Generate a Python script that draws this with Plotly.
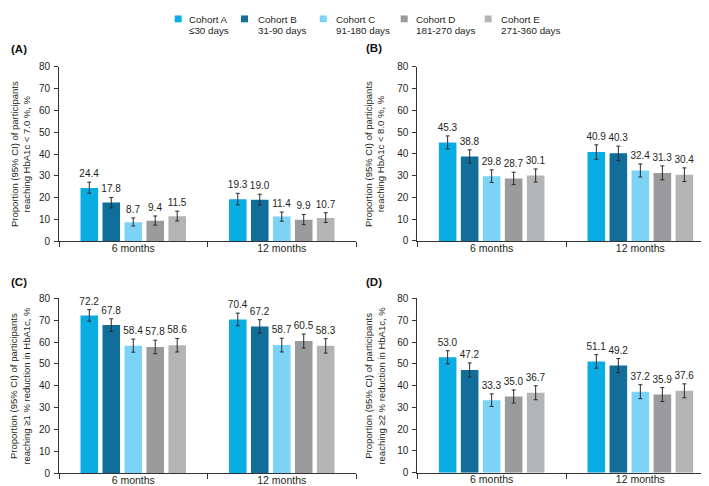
import plotly.graph_objects as go

W, H = 709, 486

# ---------------- data ----------------
cohorts = ["Cohort A", "Cohort B", "Cohort C", "Cohort D", "Cohort E"]
cohort_ranges = ["≤30 days", "31-90 days", "91-180 days", "181-270 days", "271-360 days"]
timepoints = ["6 months", "12 months"]
colors = ["#0AADE3", "#116E9A", "#7DD3F5", "#999B9C", "#B3B4B5"]

# values per cohort: [6 months, 12 months]
a_values = [[24.4, 19.3], [17.8, 19.0], [8.7, 11.4], [9.4, 9.9], [11.5, 10.7]]
a_ci_low = [[22.0, 16.7], [15.3, 16.7], [7.0, 9.2], [7.4, 7.6], [9.3, 8.6]]
a_ci_high = [[27.1, 22.0], [20.1, 21.6], [10.7, 13.4], [11.6, 12.3], [13.8, 13.1]]

b_values = [[45.3, 40.9], [38.8, 40.3], [29.8, 32.4], [28.7, 31.3], [30.1, 30.4]]
b_ci_low = [[42.3, 37.6], [35.8, 36.9], [26.9, 29.4], [25.9, 28.1], [27.1, 27.3]]
b_ci_high = [[48.3, 44.2], [41.9, 43.6], [32.7, 35.4], [31.6, 34.5], [33.1, 33.6]]

c_values = [[72.2, 70.4], [67.8, 67.2], [58.4, 58.7], [57.8, 60.5], [58.6, 58.3]]
c_ci_low = [[69.6, 67.5], [64.9, 64.1], [55.4, 55.5], [54.7, 57.3], [55.5, 55.0]]
c_ci_high = [[74.9, 73.3], [70.7, 70.3], [61.4, 61.8], [60.9, 63.7], [61.7, 61.6]]

d_values = [[53.0, 51.1], [47.2, 49.2], [33.3, 37.2], [35.0, 35.9], [36.7, 37.6]]
d_ci_low = [[50.0, 48.0], [44.0, 46.0], [30.4, 34.0], [32.0, 32.7], [33.5, 34.4]]
d_ci_high = [[56.0, 54.2], [50.4, 52.4], [36.2, 40.4], [38.0, 39.1], [39.9, 40.8]]

panel_letters = ["(A)", "(B)", "(C)", "(D)"]
y_titles = [
    "Proportion (95% CI) of participants<br>reaching HbA1c < 7.0 %, %",
    "Proportion (95% CI) of participants<br>reaching HbA1c < 8.0 %, %",
    "Proportion (95% CI) of participants<br>reaching ≥1 % reduction in HbA1c, %",
    "Proportion (95% CI) of participants<br>reaching ≥2 % reduction in HbA1c, %",
]
y_ticks = [0, 10, 20, 30, 40, 50, 60, 70, 80]

panels = [
    (a_values, a_ci_low, a_ci_high),
    (b_values, b_ci_low, b_ci_high),
    (c_values, c_ci_low, c_ci_high),
    (d_values, d_ci_low, d_ci_high),
]

# ---------------- layout geometry (pixels) ----------------
FONT = "Liberation Sans, Arial, sans-serif"
TXT = "#231F20"
AX = "#333333"

def px_x(p):
    return p / W

def px_y(p):
    return 1 - p / H

# (left, right, top, bottom) of each plot area in pixels
boxes = [
    (51, 348, 54.3, 233),
    (409.3, 706.7, 54.3, 232.7),
    (51, 348, 291.7, 470.7),
    (409.3, 706.7, 291.7, 470.3),
]
label_pos = [(1, 36), (356, 35), (1, 275), (356, 275)]
title_x = [12, 367, 12, 367]

fig = go.Figure()

for pi, (vals, lo, hi) in enumerate(panels):
    sfx = "" if pi == 0 else str(pi + 1)
    xa, ya = "x" + sfx, "y" + sfx
    for ci in range(len(cohorts)):
        v = vals[ci]
        plus = [h - val for h, val in zip(hi[ci], v)]
        minus = [val - l for l, val in zip(lo[ci], v)]
        fig.add_trace(go.Bar(
            x=timepoints, y=v, name=cohorts[ci],
            marker=dict(color=colors[ci], line=dict(width=0)),
            offsetgroup=str(ci),
            error_y=dict(type="data", array=plus, arrayminus=minus,
                         color="#2B2B2B", thickness=1, width=2),
            xaxis=xa, yaxis=ya, showlegend=False,
            hovertemplate="%{x}: %{y}<extra>" + cohorts[ci] + "</extra>",
        ))
        # value labels placed just above the upper CI
        fig.add_trace(go.Bar(
            x=timepoints, y=hi[ci], offsetgroup=str(ci),
            marker=dict(color="rgba(0,0,0,0)", line=dict(width=0)),
            text=[f"{val:.1f}" for val in v], textposition="outside",
            constraintext="none", cliponaxis=False,
            textfont=dict(size=10, color=TXT, family=FONT),
            xaxis=xa, yaxis=ya, showlegend=False, hoverinfo="skip",
        ))

layout = dict(
    width=W, height=H, autosize=False,
    margin=dict(l=0, r=0, t=0, b=0),
    paper_bgcolor="white", plot_bgcolor="white",
    barmode="group", bargap=0.26, bargroupgap=0.2,
    font=dict(family=FONT, color=TXT, size=10),
    showlegend=False,
)

annotations = []
shapes = []
for pi in range(4):
    l, r, t, b = boxes[pi]
    sfx = "" if pi == 0 else str(pi + 1)
    layout["xaxis" + sfx] = dict(
        domain=[px_x(l), px_x(r)], anchor="y" + sfx,
        type="category", categoryorder="array", categoryarray=timepoints,
        range=[-0.5, 1.5], tickson="boundaries",
        ticks="outside", ticklen=5, tickwidth=1, tickcolor=AX,
        showline=True, linecolor=AX, linewidth=1,
        showgrid=False, zeroline=False, fixedrange=True,
        tickfont=dict(size=10.5, color=TXT, family=FONT),
        ticklabelstandoff=-3,
    )
    layout["yaxis" + sfx] = dict(
        domain=[px_y(b), px_y(t)], anchor="x" + sfx,
        range=[0, 80], tickvals=y_ticks,
        ticks="outside", ticklen=4, tickwidth=1, tickcolor=AX,
        showline=True, linecolor=AX, linewidth=1,
        showgrid=False, zeroline=False, fixedrange=True,
        tickfont=dict(size=10, color=TXT, family=FONT),
        ticklabelstandoff=2,
    )
    lx, ly = label_pos[pi]
    annotations.append(dict(
        text="<b>" + panel_letters[pi] + "</b>", xref="paper", yref="paper",
        x=px_x(lx), y=px_y(ly), xanchor="left", yanchor="middle",
        showarrow=False, font=dict(size=11.5, color="#111111", family=FONT),
    ))
    annotations.append(dict(
        text=y_titles[pi], xref="paper", yref="paper",
        x=px_x(title_x[pi]), y=px_y((t + b) / 2),
        xanchor="center", yanchor="middle", textangle=-90,
        showarrow=False, font=dict(size=9.5, color=TXT, family=FONT),
    ))

# custom legend at the top
sq_x = [166.7, 233, 311.7, 392.7, 476.7]
tx_x = [179, 248, 325.7, 406, 491]
for ci in range(len(cohorts)):
    shapes.append(dict(
        type="rect", xref="paper", yref="paper",
        x0=px_x(sq_x[ci]), x1=px_x(sq_x[ci] + 7),
        y0=px_y(8.5), y1=px_y(1.5),
        fillcolor=colors[ci], line=dict(width=0),
    ))
    annotations.append(dict(
        text=cohorts[ci], xref="paper", yref="paper",
        x=px_x(tx_x[ci]), y=px_y(5.5), xanchor="left", yanchor="middle",
        showarrow=False, font=dict(size=9.8, color=TXT, family=FONT),
    ))
    annotations.append(dict(
        text=cohort_ranges[ci], xref="paper", yref="paper",
        x=px_x(tx_x[ci]), y=px_y(16.5), xanchor="left", yanchor="middle",
        showarrow=False, font=dict(size=9.8, color=TXT, family=FONT),
    ))

layout["annotations"] = annotations
layout["shapes"] = shapes
fig.update_layout(**layout)

fig.write_html("out.html")
